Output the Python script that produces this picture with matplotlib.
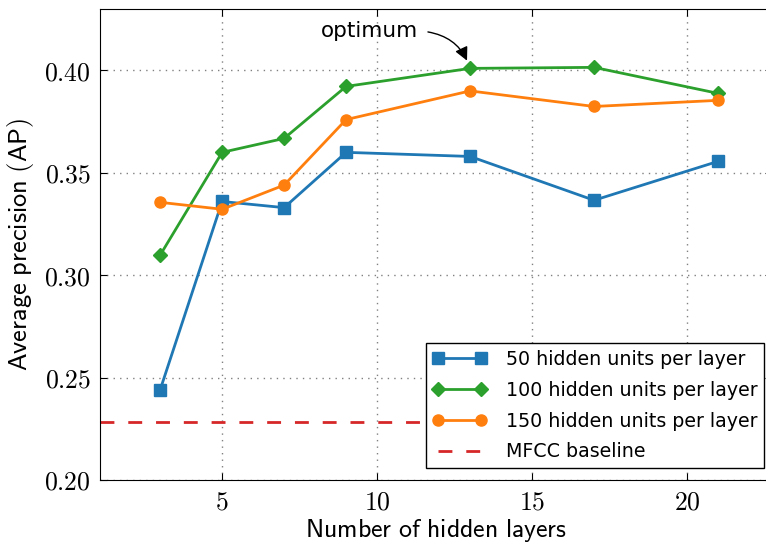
import matplotlib
matplotlib.use("Agg")
import matplotlib.pyplot as plt

plt.rcParams['mathtext.fontset'] = 'cm'
plt.rcParams['font.family'] = ['DejaVu Sans']

layers = [3, 5, 7, 9, 13, 17, 21]
ap_50 = [0.244, 0.336, 0.333, 0.360, 0.358, 0.3366, 0.3556]
ap_100 = [0.3098, 0.360, 0.3668, 0.3922, 0.401, 0.4015, 0.3888]
ap_150 = [0.3356, 0.3322, 0.344, 0.376, 0.390, 0.3824, 0.3854]
mfcc_baseline = 0.2283

labels = ['50 hidden units per layer', '100 hidden units per layer',
          '150 hidden units per layer', 'MFCC baseline']
xticks = [5, 10, 15, 20]
yticks = [0.20, 0.25, 0.30, 0.35, 0.40]
optimum_x, optimum_y = 13, 0.401

fig = plt.figure(figsize=(7.66, 5.44), dpi=100)
ax = fig.add_axes([100/766, 64/544, 672/766, 471/544])

ax.plot(layers, ap_50, color='#1f77b4', marker='s', markersize=8, lw=2, label=labels[0])
ax.plot(layers, ap_100, color='#2ca02c', marker='D', markersize=7.5, lw=2, label=labels[1])
ax.plot(layers, ap_150, color='#ff7f0e', marker='o', markersize=8, lw=2, label=labels[2])
ax.axhline(mfcc_baseline, color='#d62728', ls=(0, (5, 5)), lw=2, label=labels[3])

ax.set_xlim(1.06, 22.74)
ax.set_ylim(0.20, 0.43)
ax.set_xticks(xticks)
ax.set_xticklabels([f'${v}$' for v in xticks])
ax.set_yticks(yticks)
ax.set_yticklabels([f'${v:.2f}$' for v in yticks])
ax.tick_params(direction='in', top=True, right=True, labelsize=18.5, length=5, pad=6.5)
ax.grid(True, ls=(0, (1, 3.7)), color='#808080', lw=1)

ax.set_xlabel(r'$\mathsf{Number\ of\ hidden\ layers}$', fontsize=18.6, labelpad=1.5)
ax.set_ylabel(r'$\mathsf{Average\ precision\ (AP)}$', fontsize=19, labelpad=6)

ax.text(9.77, 0.4192, 'optimum', fontsize=15.5, ha='center', va='center')
ax.annotate('', xy=(optimum_x, optimum_y), xytext=(11.64, 0.4188),
            arrowprops=dict(arrowstyle='-|>', color='black', lw=1,
                            connectionstyle='arc3,rad=-0.3',
                            shrinkA=0, shrinkB=6, mutation_scale=20))

leg = ax.legend(loc='lower right', bbox_to_anchor=(0.988, 0.0255), borderaxespad=0,
                fontsize=13.7, numpoints=2, handlelength=2.85, handletextpad=1.0,
                labelspacing=0.62, borderpad=0.35,
                fancybox=False, framealpha=1, edgecolor='black')
leg.get_frame().set_linewidth(1)

fig.savefig('out.png', dpi=100)
